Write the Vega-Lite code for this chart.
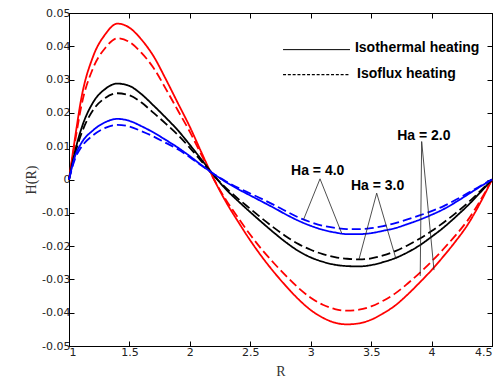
{
  "$schema": "https://vega.github.io/schema/vega-lite/v6.json",
  "width": 423,
  "height": 333,
  "autosize": "none",
  "padding": {"left": 69, "top": 13, "right": 7, "bottom": 36},
  "background": "white",
  "config": {"view": {"stroke": "black", "strokeWidth": 1}},
  "datasets": {
    "curves": [
      {"R":1,"H":0,"Ha":"2.0","heat":"Isothermal"},{"R":1.05,"H":0.0125,"Ha":"2.0","heat":"Isothermal"},{"R":1.1,"H":0.024,"Ha":"2.0","heat":"Isothermal"},{"R":1.2,"H":0.037,"Ha":"2.0","heat":"Isothermal"},{"R":1.3,"H":0.0436,"Ha":"2.0","heat":"Isothermal"},{"R":1.4,"H":0.0468,"Ha":"2.0","heat":"Isothermal"},{"R":1.5,"H":0.0456,"Ha":"2.0","heat":"Isothermal"},{"R":1.6,"H":0.042,"Ha":"2.0","heat":"Isothermal"},{"R":1.7,"H":0.037,"Ha":"2.0","heat":"Isothermal"},{"R":1.8,"H":0.0302,"Ha":"2.0","heat":"Isothermal"},{"R":1.9,"H":0.023,"Ha":"2.0","heat":"Isothermal"},{"R":2,"H":0.0158,"Ha":"2.0","heat":"Isothermal"},{"R":2.1,"H":0.0078,"Ha":"2.0","heat":"Isothermal"},{"R":2.2,"H":0,"Ha":"2.0","heat":"Isothermal"},{"R":2.3,"H":-0.0068,"Ha":"2.0","heat":"Isothermal"},{"R":2.4,"H":-0.0127,"Ha":"2.0","heat":"Isothermal"},{"R":2.5,"H":-0.0183,"Ha":"2.0","heat":"Isothermal"},{"R":2.6,"H":-0.0234,"Ha":"2.0","heat":"Isothermal"},{"R":2.7,"H":-0.028,"Ha":"2.0","heat":"Isothermal"},{"R":2.8,"H":-0.0322,"Ha":"2.0","heat":"Isothermal"},{"R":2.9,"H":-0.036,"Ha":"2.0","heat":"Isothermal"},{"R":3,"H":-0.0392,"Ha":"2.0","heat":"Isothermal"},{"R":3.1,"H":-0.0415,"Ha":"2.0","heat":"Isothermal"},{"R":3.2,"H":-0.043,"Ha":"2.0","heat":"Isothermal"},{"R":3.3,"H":-0.0435,"Ha":"2.0","heat":"Isothermal"},{"R":3.4,"H":-0.0432,"Ha":"2.0","heat":"Isothermal"},{"R":3.5,"H":-0.0421,"Ha":"2.0","heat":"Isothermal"},{"R":3.6,"H":-0.0402,"Ha":"2.0","heat":"Isothermal"},{"R":3.7,"H":-0.0378,"Ha":"2.0","heat":"Isothermal"},{"R":3.8,"H":-0.0346,"Ha":"2.0","heat":"Isothermal"},{"R":3.9,"H":-0.031,"Ha":"2.0","heat":"Isothermal"},{"R":4,"H":-0.0272,"Ha":"2.0","heat":"Isothermal"},{"R":4.1,"H":-0.023,"Ha":"2.0","heat":"Isothermal"},{"R":4.2,"H":-0.0185,"Ha":"2.0","heat":"Isothermal"},{"R":4.3,"H":-0.0135,"Ha":"2.0","heat":"Isothermal"},{"R":4.4,"H":-0.0072,"Ha":"2.0","heat":"Isothermal"},{"R":4.5,"H":0,"Ha":"2.0","heat":"Isothermal"},
      {"R":1,"H":0,"Ha":"2.0","heat":"Isoflux"},{"R":1.05,"H":0.0113,"Ha":"2.0","heat":"Isoflux"},{"R":1.1,"H":0.0217,"Ha":"2.0","heat":"Isoflux"},{"R":1.2,"H":0.0335,"Ha":"2.0","heat":"Isoflux"},{"R":1.3,"H":0.0395,"Ha":"2.0","heat":"Isoflux"},{"R":1.4,"H":0.0424,"Ha":"2.0","heat":"Isoflux"},{"R":1.5,"H":0.0413,"Ha":"2.0","heat":"Isoflux"},{"R":1.6,"H":0.038,"Ha":"2.0","heat":"Isoflux"},{"R":1.7,"H":0.0335,"Ha":"2.0","heat":"Isoflux"},{"R":1.8,"H":0.0273,"Ha":"2.0","heat":"Isoflux"},{"R":1.9,"H":0.0208,"Ha":"2.0","heat":"Isoflux"},{"R":2,"H":0.0143,"Ha":"2.0","heat":"Isoflux"},{"R":2.1,"H":0.0071,"Ha":"2.0","heat":"Isoflux"},{"R":2.2,"H":0,"Ha":"2.0","heat":"Isoflux"},{"R":2.3,"H":-0.0062,"Ha":"2.0","heat":"Isoflux"},{"R":2.4,"H":-0.0115,"Ha":"2.0","heat":"Isoflux"},{"R":2.5,"H":-0.0166,"Ha":"2.0","heat":"Isoflux"},{"R":2.6,"H":-0.0212,"Ha":"2.0","heat":"Isoflux"},{"R":2.7,"H":-0.0253,"Ha":"2.0","heat":"Isoflux"},{"R":2.8,"H":-0.0291,"Ha":"2.0","heat":"Isoflux"},{"R":2.9,"H":-0.0326,"Ha":"2.0","heat":"Isoflux"},{"R":3,"H":-0.0355,"Ha":"2.0","heat":"Isoflux"},{"R":3.1,"H":-0.0376,"Ha":"2.0","heat":"Isoflux"},{"R":3.2,"H":-0.0389,"Ha":"2.0","heat":"Isoflux"},{"R":3.3,"H":-0.0394,"Ha":"2.0","heat":"Isoflux"},{"R":3.4,"H":-0.0391,"Ha":"2.0","heat":"Isoflux"},{"R":3.5,"H":-0.0381,"Ha":"2.0","heat":"Isoflux"},{"R":3.6,"H":-0.0364,"Ha":"2.0","heat":"Isoflux"},{"R":3.7,"H":-0.0342,"Ha":"2.0","heat":"Isoflux"},{"R":3.8,"H":-0.0313,"Ha":"2.0","heat":"Isoflux"},{"R":3.9,"H":-0.0281,"Ha":"2.0","heat":"Isoflux"},{"R":4,"H":-0.0246,"Ha":"2.0","heat":"Isoflux"},{"R":4.1,"H":-0.0208,"Ha":"2.0","heat":"Isoflux"},{"R":4.2,"H":-0.0167,"Ha":"2.0","heat":"Isoflux"},{"R":4.3,"H":-0.0122,"Ha":"2.0","heat":"Isoflux"},{"R":4.4,"H":-0.0065,"Ha":"2.0","heat":"Isoflux"},{"R":4.5,"H":0,"Ha":"2.0","heat":"Isoflux"},
      {"R":1,"H":0,"Ha":"3.0","heat":"Isothermal"},{"R":1.05,"H":0.0085,"Ha":"3.0","heat":"Isothermal"},{"R":1.1,"H":0.015,"Ha":"3.0","heat":"Isothermal"},{"R":1.2,"H":0.0232,"Ha":"3.0","heat":"Isothermal"},{"R":1.3,"H":0.0272,"Ha":"3.0","heat":"Isothermal"},{"R":1.4,"H":0.0288,"Ha":"3.0","heat":"Isothermal"},{"R":1.5,"H":0.0281,"Ha":"3.0","heat":"Isothermal"},{"R":1.6,"H":0.0256,"Ha":"3.0","heat":"Isothermal"},{"R":1.7,"H":0.0222,"Ha":"3.0","heat":"Isothermal"},{"R":1.8,"H":0.0186,"Ha":"3.0","heat":"Isothermal"},{"R":1.9,"H":0.0148,"Ha":"3.0","heat":"Isothermal"},{"R":2,"H":0.0104,"Ha":"3.0","heat":"Isothermal"},{"R":2.1,"H":0.0058,"Ha":"3.0","heat":"Isothermal"},{"R":2.2,"H":0.0012,"Ha":"3.0","heat":"Isothermal"},{"R":2.3,"H":-0.003,"Ha":"3.0","heat":"Isothermal"},{"R":2.4,"H":-0.0065,"Ha":"3.0","heat":"Isothermal"},{"R":2.5,"H":-0.0098,"Ha":"3.0","heat":"Isothermal"},{"R":2.6,"H":-0.013,"Ha":"3.0","heat":"Isothermal"},{"R":2.7,"H":-0.0161,"Ha":"3.0","heat":"Isothermal"},{"R":2.8,"H":-0.019,"Ha":"3.0","heat":"Isothermal"},{"R":2.9,"H":-0.0215,"Ha":"3.0","heat":"Isothermal"},{"R":3,"H":-0.0234,"Ha":"3.0","heat":"Isothermal"},{"R":3.1,"H":-0.0247,"Ha":"3.0","heat":"Isothermal"},{"R":3.2,"H":-0.0256,"Ha":"3.0","heat":"Isothermal"},{"R":3.3,"H":-0.026,"Ha":"3.0","heat":"Isothermal"},{"R":3.4,"H":-0.0261,"Ha":"3.0","heat":"Isothermal"},{"R":3.5,"H":-0.0257,"Ha":"3.0","heat":"Isothermal"},{"R":3.6,"H":-0.0248,"Ha":"3.0","heat":"Isothermal"},{"R":3.7,"H":-0.0236,"Ha":"3.0","heat":"Isothermal"},{"R":3.8,"H":-0.0219,"Ha":"3.0","heat":"Isothermal"},{"R":3.9,"H":-0.0198,"Ha":"3.0","heat":"Isothermal"},{"R":4,"H":-0.0172,"Ha":"3.0","heat":"Isothermal"},{"R":4.1,"H":-0.0144,"Ha":"3.0","heat":"Isothermal"},{"R":4.2,"H":-0.0112,"Ha":"3.0","heat":"Isothermal"},{"R":4.3,"H":-0.0078,"Ha":"3.0","heat":"Isothermal"},{"R":4.4,"H":-0.004,"Ha":"3.0","heat":"Isothermal"},{"R":4.5,"H":0,"Ha":"3.0","heat":"Isothermal"},
      {"R":1,"H":0,"Ha":"3.0","heat":"Isoflux"},{"R":1.05,"H":0.0077,"Ha":"3.0","heat":"Isoflux"},{"R":1.1,"H":0.0135,"Ha":"3.0","heat":"Isoflux"},{"R":1.2,"H":0.0209,"Ha":"3.0","heat":"Isoflux"},{"R":1.3,"H":0.0245,"Ha":"3.0","heat":"Isoflux"},{"R":1.4,"H":0.0259,"Ha":"3.0","heat":"Isoflux"},{"R":1.5,"H":0.0253,"Ha":"3.0","heat":"Isoflux"},{"R":1.6,"H":0.0231,"Ha":"3.0","heat":"Isoflux"},{"R":1.7,"H":0.02,"Ha":"3.0","heat":"Isoflux"},{"R":1.8,"H":0.0168,"Ha":"3.0","heat":"Isoflux"},{"R":1.9,"H":0.0134,"Ha":"3.0","heat":"Isoflux"},{"R":2,"H":0.0095,"Ha":"3.0","heat":"Isoflux"},{"R":2.1,"H":0.0053,"Ha":"3.0","heat":"Isoflux"},{"R":2.2,"H":0.0011,"Ha":"3.0","heat":"Isoflux"},{"R":2.3,"H":-0.0026,"Ha":"3.0","heat":"Isoflux"},{"R":2.4,"H":-0.0058,"Ha":"3.0","heat":"Isoflux"},{"R":2.5,"H":-0.0088,"Ha":"3.0","heat":"Isoflux"},{"R":2.6,"H":-0.0118,"Ha":"3.0","heat":"Isoflux"},{"R":2.7,"H":-0.0146,"Ha":"3.0","heat":"Isoflux"},{"R":2.8,"H":-0.0172,"Ha":"3.0","heat":"Isoflux"},{"R":2.9,"H":-0.0194,"Ha":"3.0","heat":"Isoflux"},{"R":3,"H":-0.0211,"Ha":"3.0","heat":"Isoflux"},{"R":3.1,"H":-0.0224,"Ha":"3.0","heat":"Isoflux"},{"R":3.2,"H":-0.0233,"Ha":"3.0","heat":"Isoflux"},{"R":3.3,"H":-0.0238,"Ha":"3.0","heat":"Isoflux"},{"R":3.4,"H":-0.024,"Ha":"3.0","heat":"Isoflux"},{"R":3.5,"H":-0.0237,"Ha":"3.0","heat":"Isoflux"},{"R":3.6,"H":-0.0228,"Ha":"3.0","heat":"Isoflux"},{"R":3.7,"H":-0.0215,"Ha":"3.0","heat":"Isoflux"},{"R":3.8,"H":-0.0198,"Ha":"3.0","heat":"Isoflux"},{"R":3.9,"H":-0.0178,"Ha":"3.0","heat":"Isoflux"},{"R":4,"H":-0.0155,"Ha":"3.0","heat":"Isoflux"},{"R":4.1,"H":-0.0129,"Ha":"3.0","heat":"Isoflux"},{"R":4.2,"H":-0.0101,"Ha":"3.0","heat":"Isoflux"},{"R":4.3,"H":-0.007,"Ha":"3.0","heat":"Isoflux"},{"R":4.4,"H":-0.0036,"Ha":"3.0","heat":"Isoflux"},{"R":4.5,"H":0,"Ha":"3.0","heat":"Isoflux"},
      {"R":1,"H":0,"Ha":"4.0","heat":"Isothermal"},{"R":1.05,"H":0.007,"Ha":"4.0","heat":"Isothermal"},{"R":1.1,"H":0.0108,"Ha":"4.0","heat":"Isothermal"},{"R":1.2,"H":0.0148,"Ha":"4.0","heat":"Isothermal"},{"R":1.3,"H":0.0172,"Ha":"4.0","heat":"Isothermal"},{"R":1.4,"H":0.0182,"Ha":"4.0","heat":"Isothermal"},{"R":1.5,"H":0.0176,"Ha":"4.0","heat":"Isothermal"},{"R":1.6,"H":0.016,"Ha":"4.0","heat":"Isothermal"},{"R":1.7,"H":0.0141,"Ha":"4.0","heat":"Isothermal"},{"R":1.8,"H":0.0119,"Ha":"4.0","heat":"Isothermal"},{"R":1.9,"H":0.0096,"Ha":"4.0","heat":"Isothermal"},{"R":2,"H":0.007,"Ha":"4.0","heat":"Isothermal"},{"R":2.1,"H":0.0042,"Ha":"4.0","heat":"Isothermal"},{"R":2.2,"H":0.0016,"Ha":"4.0","heat":"Isothermal"},{"R":2.3,"H":-0.0008,"Ha":"4.0","heat":"Isothermal"},{"R":2.4,"H":-0.0029,"Ha":"4.0","heat":"Isothermal"},{"R":2.5,"H":-0.0048,"Ha":"4.0","heat":"Isothermal"},{"R":2.6,"H":-0.0067,"Ha":"4.0","heat":"Isothermal"},{"R":2.7,"H":-0.0086,"Ha":"4.0","heat":"Isothermal"},{"R":2.8,"H":-0.0106,"Ha":"4.0","heat":"Isothermal"},{"R":2.9,"H":-0.0124,"Ha":"4.0","heat":"Isothermal"},{"R":3,"H":-0.0139,"Ha":"4.0","heat":"Isothermal"},{"R":3.1,"H":-0.0151,"Ha":"4.0","heat":"Isothermal"},{"R":3.2,"H":-0.0159,"Ha":"4.0","heat":"Isothermal"},{"R":3.3,"H":-0.0164,"Ha":"4.0","heat":"Isothermal"},{"R":3.4,"H":-0.0164,"Ha":"4.0","heat":"Isothermal"},{"R":3.5,"H":-0.0161,"Ha":"4.0","heat":"Isothermal"},{"R":3.6,"H":-0.0154,"Ha":"4.0","heat":"Isothermal"},{"R":3.7,"H":-0.0146,"Ha":"4.0","heat":"Isothermal"},{"R":3.8,"H":-0.0134,"Ha":"4.0","heat":"Isothermal"},{"R":3.9,"H":-0.0121,"Ha":"4.0","heat":"Isothermal"},{"R":4,"H":-0.0106,"Ha":"4.0","heat":"Isothermal"},{"R":4.1,"H":-0.0089,"Ha":"4.0","heat":"Isothermal"},{"R":4.2,"H":-0.0068,"Ha":"4.0","heat":"Isothermal"},{"R":4.3,"H":-0.0045,"Ha":"4.0","heat":"Isothermal"},{"R":4.4,"H":-0.0022,"Ha":"4.0","heat":"Isothermal"},{"R":4.5,"H":0,"Ha":"4.0","heat":"Isothermal"},
      {"R":1,"H":0,"Ha":"4.0","heat":"Isoflux"},{"R":1.05,"H":0.0062,"Ha":"4.0","heat":"Isoflux"},{"R":1.1,"H":0.0096,"Ha":"4.0","heat":"Isoflux"},{"R":1.2,"H":0.0133,"Ha":"4.0","heat":"Isoflux"},{"R":1.3,"H":0.0155,"Ha":"4.0","heat":"Isoflux"},{"R":1.4,"H":0.0164,"Ha":"4.0","heat":"Isoflux"},{"R":1.5,"H":0.0159,"Ha":"4.0","heat":"Isoflux"},{"R":1.6,"H":0.0145,"Ha":"4.0","heat":"Isoflux"},{"R":1.7,"H":0.0129,"Ha":"4.0","heat":"Isoflux"},{"R":1.8,"H":0.011,"Ha":"4.0","heat":"Isoflux"},{"R":1.9,"H":0.0091,"Ha":"4.0","heat":"Isoflux"},{"R":2,"H":0.0067,"Ha":"4.0","heat":"Isoflux"},{"R":2.1,"H":0.0041,"Ha":"4.0","heat":"Isoflux"},{"R":2.2,"H":0.0016,"Ha":"4.0","heat":"Isoflux"},{"R":2.3,"H":-0.0006,"Ha":"4.0","heat":"Isoflux"},{"R":2.4,"H":-0.0025,"Ha":"4.0","heat":"Isoflux"},{"R":2.5,"H":-0.0042,"Ha":"4.0","heat":"Isoflux"},{"R":2.6,"H":-0.0059,"Ha":"4.0","heat":"Isoflux"},{"R":2.7,"H":-0.0077,"Ha":"4.0","heat":"Isoflux"},{"R":2.8,"H":-0.0096,"Ha":"4.0","heat":"Isoflux"},{"R":2.9,"H":-0.0114,"Ha":"4.0","heat":"Isoflux"},{"R":3,"H":-0.0128,"Ha":"4.0","heat":"Isoflux"},{"R":3.1,"H":-0.0139,"Ha":"4.0","heat":"Isoflux"},{"R":3.2,"H":-0.0145,"Ha":"4.0","heat":"Isoflux"},{"R":3.3,"H":-0.0149,"Ha":"4.0","heat":"Isoflux"},{"R":3.4,"H":-0.0149,"Ha":"4.0","heat":"Isoflux"},{"R":3.5,"H":-0.0146,"Ha":"4.0","heat":"Isoflux"},{"R":3.6,"H":-0.014,"Ha":"4.0","heat":"Isoflux"},{"R":3.7,"H":-0.0131,"Ha":"4.0","heat":"Isoflux"},{"R":3.8,"H":-0.012,"Ha":"4.0","heat":"Isoflux"},{"R":3.9,"H":-0.0108,"Ha":"4.0","heat":"Isoflux"},{"R":4,"H":-0.0095,"Ha":"4.0","heat":"Isoflux"},{"R":4.1,"H":-0.008,"Ha":"4.0","heat":"Isoflux"},{"R":4.2,"H":-0.0061,"Ha":"4.0","heat":"Isoflux"},{"R":4.3,"H":-0.0041,"Ha":"4.0","heat":"Isoflux"},{"R":4.4,"H":-0.002,"Ha":"4.0","heat":"Isoflux"},{"R":4.5,"H":0,"Ha":"4.0","heat":"Isoflux"}
    ],
    "pointers": [
      {"x":3.077,"y":0.0002,"x2":2.94,"y2":-0.0121},
      {"x":3.077,"y":0.0002,"x2":3.256,"y2":-0.0161},
      {"x":3.546,"y":-0.0041,"x2":3.4,"y2":-0.0239},
      {"x":3.546,"y":-0.0041,"x2":3.706,"y2":-0.0239},
      {"x":3.918,"y":0.0114,"x2":3.906,"y2":-0.029},
      {"x":3.918,"y":0.0114,"x2":4.02,"y2":-0.0272}
    ],
    "labels": [
      {"x":3.058,"y":0.0025,"text":"Ha = 4.0"},
      {"x":3.553,"y":-0.0019,"text":"Ha = 3.0"},
      {"x":3.936,"y":0.0131,"text":"Ha = 2.0"}
    ],
    "keyText": [
      {"x":3.366,"y":0.0395,"text":"Isothermal heating"},
      {"x":3.383,"y":0.0318,"text":"Isoflux heating"}
    ],
    "keySolid": [{"x":2.771,"x2":3.325,"y":0.039}],
    "keyDash": [{"x":2.771,"x2":3.325,"y":0.0315}]
  },
  "resolve": {"axis": {"x": "independent", "y": "independent"}},
  "layer": [
    {
      "data": {"name": "curves"},
      "mark": {"type": "line", "strokeWidth": 1.8, "interpolate": "monotone"},
      "encoding": {
        "x": {"field": "R", "type": "quantitative",
          "scale": {"domain": [1, 4.5], "nice": false, "zero": false},
          "axis": {"title": "R", "values": [1, 1.5, 2, 2.5, 3, 3.5, 4, 4.5], "format": "~g",
            "grid": false, "tickSize": -5, "tickColor": "black", "domainColor": "black",
            "labelFont": "DejaVu Sans", "labelFontSize": 11, "labelColor": "#222", "labelPadding": 5,
            "titleFont": "Liberation Serif", "titleFontSize": 14, "titleFontWeight": "normal", "titleColor": "#333", "titlePadding": 7}},
        "y": {"field": "H", "type": "quantitative",
          "scale": {"domain": [-0.05, 0.05], "nice": false, "zero": false},
          "axis": {"title": "H(R)", "values": [-0.05, -0.04, -0.03, -0.02, -0.01, 0, 0.01, 0.02, 0.03, 0.04, 0.05],
            "labelExpr": "abs(datum.value) < 1e-9 ? '0' : (datum.value < 0 ? '-' + format(-datum.value, '.2f') : format(datum.value, '.2f'))",
            "grid": false, "tickSize": -5, "tickColor": "black", "domainColor": "black",
            "labelFont": "DejaVu Sans", "labelFontSize": 11, "labelColor": "#222", "labelPadding": 4,
            "titleFont": "Liberation Serif", "titleFontSize": 14, "titleFontWeight": "normal", "titleColor": "#333", "titlePadding": 3}},
        "color": {"field": "Ha", "type": "nominal",
          "scale": {"domain": ["2.0", "3.0", "4.0"], "range": ["#ff0000", "#000000", "#0000ff"]}, "legend": null},
        "strokeDash": {"field": "heat", "type": "nominal",
          "scale": {"domain": ["Isothermal", "Isoflux"], "range": [[1, 0], [9, 4]]}, "legend": null}
      }
    },
    {
      "data": {"name": "pointers"},
      "mark": {"type": "rule", "color": "#222", "strokeWidth": 0.8},
      "encoding": {
        "x": {"field": "x", "type": "quantitative", "axis": null},
        "y": {"field": "y", "type": "quantitative", "axis": null},
        "x2": {"field": "x2"},
        "y2": {"field": "y2"}
      }
    },
    {
      "data": {"name": "labels"},
      "mark": {"type": "text", "font": "Liberation Sans", "fontWeight": "bold", "fontSize": 14, "color": "black", "align": "center", "baseline": "middle"},
      "encoding": {
        "x": {"field": "x", "type": "quantitative", "axis": null},
        "y": {"field": "y", "type": "quantitative", "axis": null},
        "text": {"field": "text"}
      }
    },
    {
      "data": {"name": "keyText"},
      "mark": {"type": "text", "font": "Liberation Sans", "fontWeight": "bold", "fontSize": 14, "color": "black", "align": "left", "baseline": "middle"},
      "encoding": {
        "x": {"field": "x", "type": "quantitative", "axis": null},
        "y": {"field": "y", "type": "quantitative", "axis": null},
        "text": {"field": "text"}
      }
    },
    {
      "data": {"name": "keySolid"},
      "mark": {"type": "rule", "color": "black", "strokeWidth": 1},
      "encoding": {
        "x": {"field": "x", "type": "quantitative", "axis": null},
        "x2": {"field": "x2"},
        "y": {"field": "y", "type": "quantitative", "axis": null}
      }
    },
    {
      "data": {"name": "keyDash"},
      "mark": {"type": "rule", "color": "black", "strokeWidth": 1.2, "strokeDash": [3, 1.8]},
      "encoding": {
        "x": {"field": "x", "type": "quantitative",
          "axis": {"orient": "top", "title": null, "labels": false, "values": [1, 1.5, 2, 2.5, 3, 3.5, 4, 4.5], "grid": false, "tickSize": -5, "tickColor": "black", "domainColor": "black"}},
        "x2": {"field": "x2"},
        "y": {"field": "y", "type": "quantitative",
          "axis": {"orient": "right", "title": null, "labels": false, "values": [-0.05, -0.04, -0.03, -0.02, -0.01, 0, 0.01, 0.02, 0.03, 0.04, 0.05], "grid": false, "tickSize": -5, "tickColor": "black", "domainColor": "black"}}
      }
    }
  ]
}
